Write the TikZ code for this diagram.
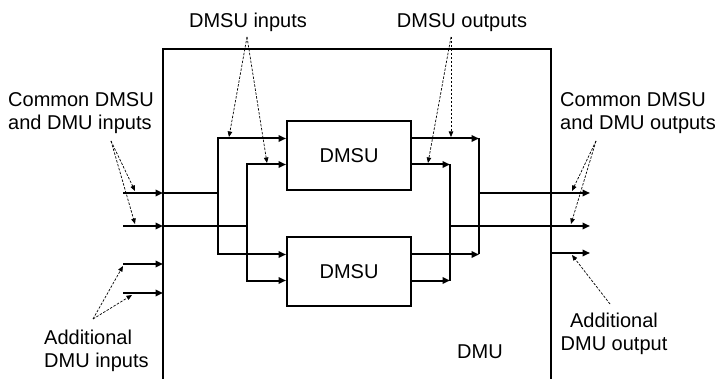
\documentclass[tikz,border=0pt]{standalone}
\usepackage{fontspec}
\setmainfont{Liberation Sans}
\usepackage{tikz}
\usetikzlibrary{arrows.meta, positioning}

\begin{document}
\begin{tikzpicture}[
    x=1pt, y=-1pt,
    font=\fontsize{20pt}{23pt}\selectfont,
    box/.style={draw, line width=2pt, minimum width=124pt, minimum height=69pt, inner sep=0pt},
    wire/.style={line width=2pt},
    arrow/.style={wire, -{Triangle[length=7.5pt, width=6.5pt]}},
    hint/.style={line width=0.7pt, dash pattern=on 2.5pt off 1.5pt, -{Triangle[length=5.5pt, width=4.5pt]}},
    lbl/.style={inner sep=0pt, align=left}
  ]
    \useasboundingbox (0,0) rectangle (717,379);

    \coordinate (frameBL) at (163,380);
    \coordinate (frameTL) at (163,49);
    \coordinate (frameTR) at (551,49);
    \coordinate (frameBR) at (551,380);
    \draw[wire] (frameBL) -- (frameTL) -- (frameTR) -- (frameBR);

    \node[box] (dmsuA) at (349,155.5) {DMSU};
    \node[box, below=45pt of dmsuA] (dmsuB) {DMSU};

    \coordinate (inA) at (123,193);
    \coordinate (inB) at (123,226);
    \coordinate (inC) at (123,264);
    \coordinate (inD) at (123,293);
    \coordinate (splitA) at (218,193);
    \coordinate (splitB) at (247,226);
    \coordinate (joinA) at (479,193);
    \coordinate (joinB) at (450,226);
    \coordinate (outA) at (590,193);
    \coordinate (outB) at (590,226);
    \coordinate (outC) at (590,253);

    \foreach \p in {inA, inB, inC, inD}
      \draw[arrow] (\p) -- (\p -| frameTL);
    \draw[wire] (inA -| frameTL) -- (splitA);
    \draw[wire] (inB -| frameTL) -- (splitB);
    \foreach \b in {dmsuA, dmsuB} {
      \draw[arrow] (splitA) |- ([yshift=17pt]\b.west);
      \draw[arrow] (splitB) |- ([yshift=-9pt]\b.west);
      \draw[arrow] ([yshift=17pt]\b.east) -- ([yshift=17pt]\b.east -| joinA);
      \draw[arrow] ([yshift=-9pt]\b.east) -- ([yshift=-9pt]\b.east -| joinB);
    }
    \draw[wire] ([yshift=17pt]dmsuA.east -| joinA) -- ([yshift=17pt]dmsuB.east -| joinA);
    \draw[wire] ([yshift=-9pt]dmsuA.east -| joinB) -- ([yshift=-9pt]dmsuB.east -| joinB);
    \draw[arrow] (joinA) -- (outA);
    \draw[arrow] (joinB) -- (outB);
    \draw[arrow] (outC -| frameTR) -- (outC);

    \node[lbl, anchor=north west] (commonInLbl) at (8,92) {Common DMSU\\and DMU inputs};
    \node[lbl, anchor=north] (dmsuInLbl) at (248,13) {DMSU inputs};
    \node[lbl, anchor=north] (dmsuOutLbl) at (462,13) {DMSU outputs};
    \node[lbl, anchor=north west] (commonOutLbl) at (560,92) {Common DMSU\\and DMU outputs};
    \node[lbl, anchor=north west] (addInLbl) at (44,330) {Additional\\DMU inputs};
    \node[lbl, anchor=north, align=center] (addOutLbl) at (614,313) {Additional\\DMU output};
    \node[lbl, anchor=north] (dmuLbl) at (480,345) {DMU};

    \coordinate (dmsuInTail) at (247,37);
    \coordinate (dmsuOutTail) at (451,37);
    \coordinate (commonInTail) at (111,141);
    \coordinate (commonOutTail) at (596,141);
    \coordinate (addInTail) at (93,319);
    \coordinate (addOutTail) at (610,304);
    \coordinate (hintInA) at (229,137);
    \coordinate (hintInB) at (267,163);
    \coordinate (hintOutA) at (451,137);
    \coordinate (hintOutB) at (428,163);
    \coordinate (hintCommonInA) at (135,191);
    \coordinate (hintCommonInB) at (135,224);
    \coordinate (hintCommonOutA) at (572,191);
    \coordinate (hintCommonOutB) at (571,224);
    \coordinate (hintAddInA) at (123,266);
    \coordinate (hintAddInB) at (132,295);
    \coordinate (hintAddOut) at (572,255);

    \draw[hint] (dmsuInTail) -- (hintInA);
    \draw[hint] (dmsuInTail) -- (hintInB);
    \draw[hint] (dmsuOutTail) -- (hintOutA);
    \draw[hint] (dmsuOutTail) -- (hintOutB);
    \draw[hint] (commonInTail) -- (hintCommonInA);
    \draw[hint] (commonInTail) -- (hintCommonInB);
    \draw[hint] (commonOutTail) -- (hintCommonOutA);
    \draw[hint] (commonOutTail) -- (hintCommonOutB);
    \draw[hint] (addInTail) -- (hintAddInA);
    \draw[hint] (addInTail) -- (hintAddInB);
    \draw[hint] (addOutTail) -- (hintAddOut);
  \end{tikzpicture}
\end{document}
